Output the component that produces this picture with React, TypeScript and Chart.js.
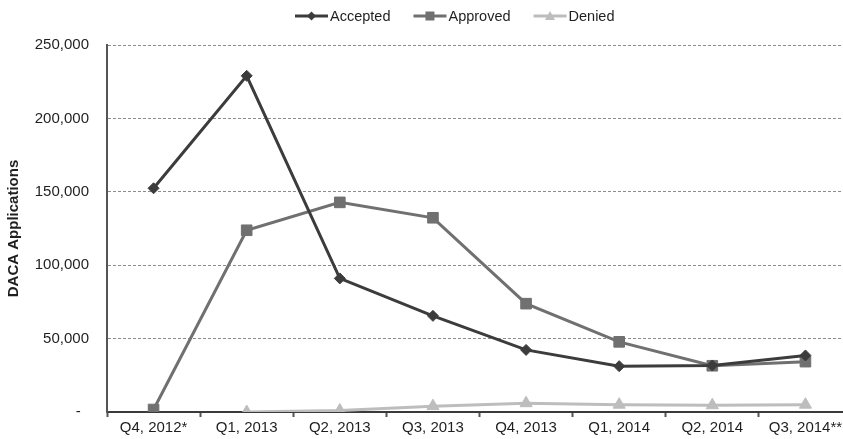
import React, { useEffect, useRef } from "react";
import { Chart, registerables } from "chart.js";

Chart.register(...registerables);

const quarters = [
  "Q4, 2012*",
  "Q1, 2013",
  "Q2, 2013",
  "Q3, 2013",
  "Q4, 2013",
  "Q1, 2014",
  "Q2, 2014",
  "Q3, 2014**",
];

const accepted = [152400, 229000, 91000, 65500, 42300, 31200, 31700, 38500];
const approved = [1700, 123800, 142800, 132300, 73800, 47800, 31500, 34300];
const denied = [null, 0, 1000, 4000, 6000, 5000, 4600, 5000];

const yTicks = [0, 50000, 100000, 150000, 200000, 250000];

const FONT = "'Liberation Sans', Arial, sans-serif";
const TEXT = "#1f1f1f";

const seriesStyle = [
  { color: "#3c3c3c", point: "rectRot", radius: 5.5 },
  { color: "#707070", point: "rect", radius: 7.5 },
  { color: "#bdbdbd", point: "triangle", radius: 7 },
];

// Legend drawn as "line + marker + label" entries across the top
const lineLegend = {
  id: "lineLegend",
  afterDraw(chart: any) {
    const ctx = chart.ctx as CanvasRenderingContext2D;
    const y = 16;
    let x = 295;
    ctx.save();
    ctx.font = `14.5px ${FONT}`;
    ctx.textBaseline = "middle";
    ctx.textAlign = "left";
    chart.data.datasets.forEach((ds: any, i: number) => {
      const st = seriesStyle[i];
      ctx.strokeStyle = st.color;
      ctx.lineWidth = 3;
      ctx.beginPath();
      ctx.moveTo(x, y);
      ctx.lineTo(x + 33, y);
      ctx.stroke();
      ctx.fillStyle = st.color;
      const cx = x + 16.5;
      ctx.beginPath();
      if (st.point === "rectRot") {
        ctx.moveTo(cx, y - 4.5);
        ctx.lineTo(cx + 4.5, y);
        ctx.lineTo(cx, y + 4.5);
        ctx.lineTo(cx - 4.5, y);
      } else if (st.point === "rect") {
        ctx.rect(cx - 4.5, y - 4.5, 9, 9);
      } else {
        ctx.moveTo(cx, y - 5);
        ctx.lineTo(cx + 5, y + 4);
        ctx.lineTo(cx - 5, y + 4);
      }
      ctx.closePath();
      ctx.fill();
      ctx.fillStyle = TEXT;
      ctx.fillText(ds.label, x + 35, y + 1);
      x += 35 + ctx.measureText(ds.label).width + 23;
    });
    ctx.restore();
  },
};

export default function App() {
  const ref = useRef<HTMLCanvasElement | null>(null);

  useEffect(() => {
    if (!ref.current) return;
    const chart = new Chart(ref.current, {
      type: "line",
      data: {
        labels: quarters,
        datasets: [
          { label: "Accepted", data: accepted },
          { label: "Approved", data: approved },
          { label: "Denied", data: denied },
        ].map((d, i) => ({
          ...d,
          borderColor: seriesStyle[i].color,
          backgroundColor: seriesStyle[i].color,
          pointBackgroundColor: seriesStyle[i].color,
          pointBorderColor: seriesStyle[i].color,
          borderWidth: 3,
          pointStyle: seriesStyle[i].point as any,
          pointRadius: seriesStyle[i].radius,
          pointBorderWidth: 1,
          tension: 0,
          spanGaps: false,
          fill: false,
        })),
      },
      options: {
        responsive: false,
        animation: false,
        layout: { padding: { top: 45, right: 14, left: 0, bottom: 0 } },
        plugins: {
          legend: { display: false },
          tooltip: { enabled: false },
        },
        scales: {
          x: {
            offset: true,
            grid: {
              offset: true,
              drawOnChartArea: false,
              drawTicks: true,
              tickLength: 5,
              tickColor: "#555",
              tickWidth: 2,
            },
            border: { color: "#3a3a3a", width: 2 },
            ticks: {
              color: TEXT,
              font: { family: FONT, size: 15 },
              padding: 2,
              maxRotation: 0,
              autoSkip: false,
            },
            afterFit(scale: any) {
              scale.height = 26;
            },
          },
          y: {
            min: 0,
            max: 250000,
            afterBuildTicks(scale: any) {
              scale.ticks = yTicks.map((v) => ({ value: v }));
            },
            grid: {
              drawTicks: false,
              color: (c: any) => (c.tick && c.tick.value === 0 ? "rgba(0,0,0,0)" : "#8c8c8c"),
              lineWidth: 1,
            },
            border: { color: "#555", width: 2, dash: [3, 2] },
            ticks: {
              color: TEXT,
              font: { family: FONT, size: 15 },
              padding: 18,
              callback: (v: any) => (Number(v) === 0 ? "-  " : Number(v).toLocaleString("en-US")),
            },
            title: {
              display: true,
              text: "DACA Applications",
              color: TEXT,
              font: { family: FONT, size: 15, weight: "bold" },
              padding: { top: 5, bottom: 0 },
            },
            afterFit(scale: any) {
              scale.width = 107;
            },
          },
        },
      },
      plugins: [lineLegend],
    });
    return () => chart.destroy();
  }, []);

  return (
    <div
      style={{
        position: "fixed",
        left: 0,
        top: 0,
        width: 843,
        height: 439,
        overflow: "hidden",
        background: "#fff",
      }}
    >
      <canvas ref={ref} width={866} height={439} style={{ display: "block" }} />
    </div>
  );
}
